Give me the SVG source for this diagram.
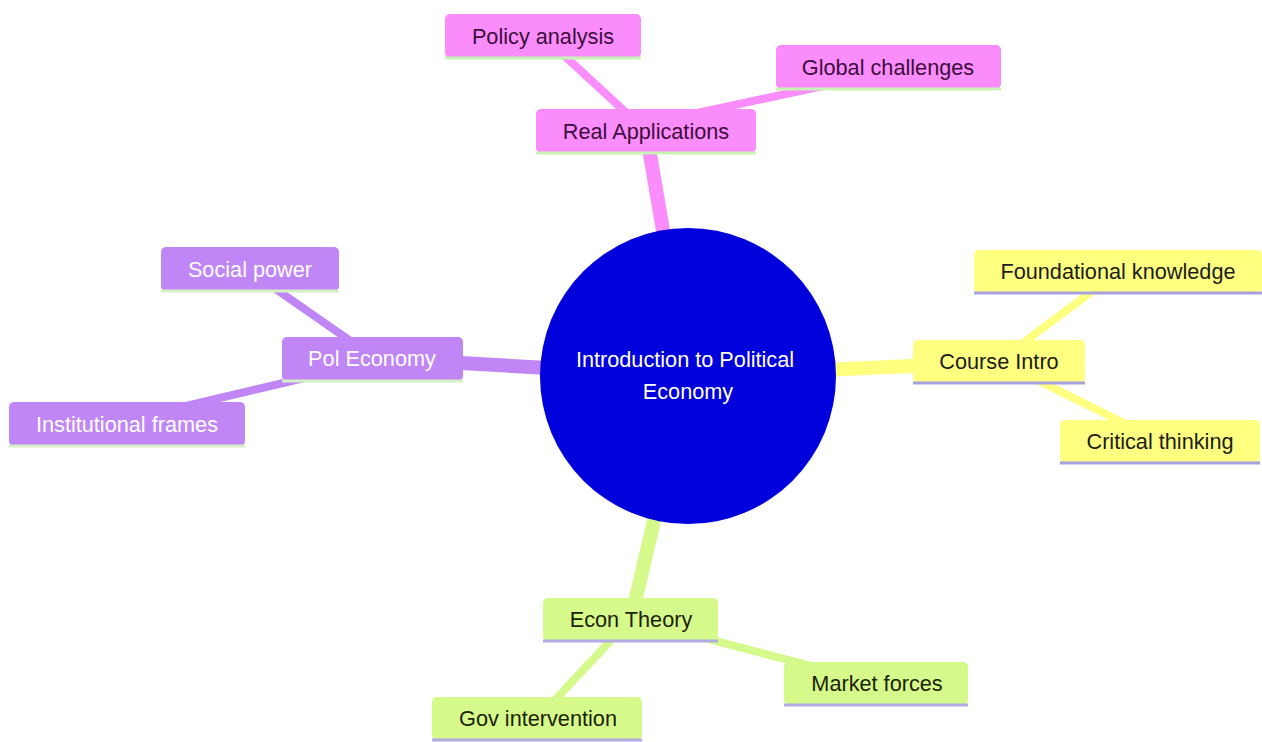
<svg xmlns="http://www.w3.org/2000/svg" width="1262" height="742" viewBox="0 0 1262 742">
<style>
text{font-family:"Liberation Sans",Arial,sans-serif;font-size:21.7px;text-anchor:middle}
.e1{stroke-width:14;stroke-linecap:butt;fill:none}
.e2{stroke-width:8;stroke-linecap:butt;fill:none}
.pk{fill:#fb8cfb}.pkl{stroke:#c8f3b4}.pkt{fill:#3d0c3d}.pks{stroke:#fb8cfb}
.pu{fill:#c186f5}.pul{stroke:#d6f0c6}.put{fill:#ffffff}.pus{stroke:#c186f5}
.ye{fill:#ffff80}.yel{stroke:#a8a2e0}.yet{fill:#1c1c1c}.yes{stroke:#ffff80}
.gr{fill:#d6f98c}.grl{stroke:#b3aae4}.grt{fill:#1b2400}.grs{stroke:#d6f98c}
.ln{stroke-width:3}
</style>
<rect width="1262" height="742" fill="#ffffff"/>
<g id="connectors">
<line class="e1 pks" x1="688" y1="376" x2="646" y2="131"/>
<line class="e2 pks" x1="646" y1="131" x2="543" y2="36"/>
<line class="e2 pks" x1="646" y1="124" x2="888" y2="72"/>
<line class="e1 pus" x1="688" y1="376" x2="372" y2="358"/>
<line class="e2 pus" x1="372" y1="356" x2="250" y2="271"/>
<line class="e2 pus" x1="372" y1="362" x2="127" y2="420"/>
<line class="e1 yes" x1="688" y1="376" x2="999" y2="362"/>
<line class="e2 yes" x1="999" y1="361" x2="1118" y2="272"/>
<line class="e2 yes" x1="999" y1="361" x2="1160" y2="441"/>
<line class="e1 grs" x1="688" y1="376" x2="631" y2="619"/>
<line class="e2 grs" x1="631" y1="619" x2="877" y2="683"/>
<line class="e2 grs" x1="631" y1="619" x2="538" y2="718"/>
</g>
<g id="root">
<circle cx="688" cy="376" r="148" fill="#0000dd"/>
<text x="685" y="367" fill="#ffffff">Introduction to Political</text>
<text x="688" y="399" fill="#ffffff">Economy</text>
</g>
<g id="real-applications">
<rect class="pk" x="536" y="109" width="220" height="44" rx="5"/>
<line class="pkl ln" x1="536" y1="153" x2="756" y2="153"/>
<text class="pkt" x="646" y="139">Real Applications</text>
</g>
<g id="policy-analysis">
<rect class="pk" x="445" y="14" width="196" height="44" rx="5"/>
<line class="pkl ln" x1="445" y1="58" x2="641" y2="58"/>
<text class="pkt" x="543" y="44">Policy analysis</text>
</g>
<g id="global-challenges">
<rect class="pk" x="776" y="45" width="225" height="44" rx="5"/>
<line class="pkl ln" x1="776" y1="89" x2="1001" y2="89"/>
<text class="pkt" x="888" y="75">Global challenges</text>
</g>
<g id="pol-economy">
<rect class="pu" x="282" y="337" width="181" height="44" rx="5"/>
<line class="pul ln" x1="282" y1="381" x2="463" y2="381"/>
<text class="put" x="372" y="366">Pol Economy</text>
</g>
<g id="social-power">
<rect class="pu" x="161" y="247" width="178" height="44" rx="5"/>
<line class="pul ln" x1="161" y1="291" x2="339" y2="291"/>
<text class="put" x="250" y="277">Social power</text>
</g>
<g id="institutional-frames">
<rect class="pu" x="9" y="402" width="236" height="44" rx="5"/>
<line class="pul ln" x1="9" y1="446" x2="245" y2="446"/>
<text class="put" x="127" y="432">Institutional frames</text>
</g>
<g id="course-intro">
<rect class="ye" x="913" y="340" width="172" height="43" rx="5"/>
<line class="yel ln" x1="913" y1="383" x2="1085" y2="383"/>
<text class="yet" x="999" y="369">Course Intro</text>
</g>
<g id="foundational-knowledge">
<rect class="ye" x="974" y="250" width="288" height="43" rx="5"/>
<line class="yel ln" x1="974" y1="293" x2="1262" y2="293"/>
<text class="yet" x="1118" y="279">Foundational knowledge</text>
</g>
<g id="critical-thinking">
<rect class="ye" x="1060" y="420" width="200" height="43" rx="5"/>
<line class="yel ln" x1="1060" y1="463" x2="1260" y2="463"/>
<text class="yet" x="1160" y="449">Critical thinking</text>
</g>
<g id="econ-theory">
<rect class="gr" x="543" y="598" width="175" height="43" rx="5"/>
<line class="grl ln" x1="543" y1="641" x2="718" y2="641"/>
<text class="grt" x="631" y="627">Econ Theory</text>
</g>
<g id="market-forces">
<rect class="gr" x="784" y="662" width="184" height="43" rx="5"/>
<line class="grl ln" x1="784" y1="705" x2="968" y2="705"/>
<text class="grt" x="877" y="691">Market forces</text>
</g>
<g id="gov-intervention">
<rect class="gr" x="432" y="697" width="210" height="43" rx="5"/>
<line class="grl ln" x1="432" y1="740" x2="642" y2="740"/>
<text class="grt" x="538" y="726">Gov intervention</text>
</g>
</svg>
